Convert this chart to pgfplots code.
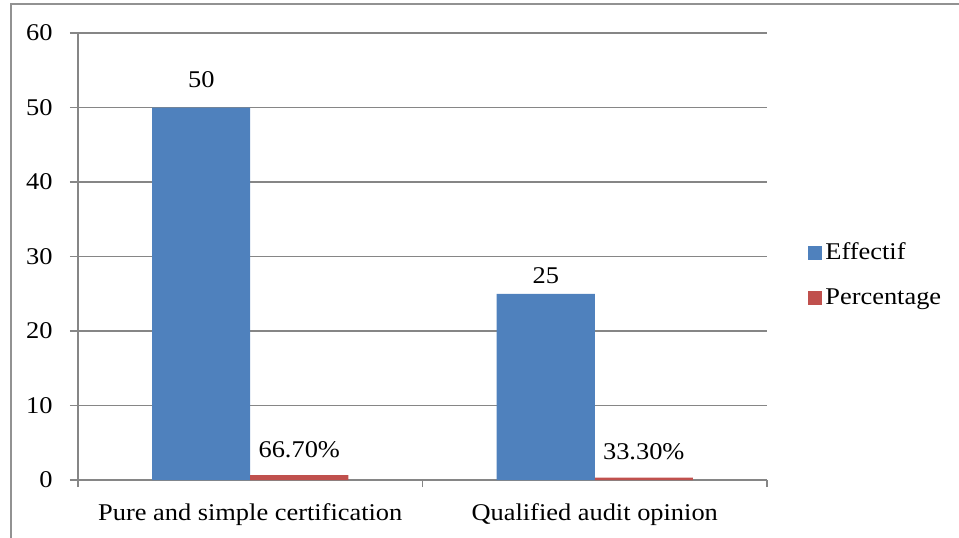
\documentclass[border=0pt]{standalone}
\usepackage{fontspec}
\setmainfont{Liberation Serif}[FakeStretch=1.1]
\usepackage{pgfplots}
\pgfplotsset{compat=1.18}
\definecolor{eblue}{HTML}{4F81BD}
\definecolor{ered}{HTML}{C0504D}
\definecolor{gridgray}{HTML}{868686}
\begin{document}
\begin{tikzpicture}[font=\fontsize{12pt}{14pt}\selectfont]
\begin{axis}[
  at={(0,0)}, anchor=south west,
  scale only axis, width=344.5pt, height=223.5pt,
  xmin=-0.5, xmax=1.5, ymin=0, ymax=60,
  ytick={0,10,...,60},
  ymajorgrids, grid style={gridgray, line width=0.6pt},
  axis x line*=bottom, axis y line*=left,
  axis line style={gridgray, line width=0.6pt, -},
  xtick={0,1},
  xticklabels={Pure and simple certification, Qualified audit opinion},
  major x tick style={draw=none},
  minor xtick={-0.5,0.5,1.5},
  minor tick length=3.5pt, major tick length=4pt, tick align=outside,
  tick style={gridgray, line width=0.6pt},
  /pgf/number format/assume math mode=true,
  tick label style={font=\fontsize{12pt}{14pt}\selectfont, text=black},
  yticklabel style={anchor=east, inner sep=0pt, xshift=-8.5pt},
  xticklabel style={anchor=base, inner sep=0pt, yshift=-16pt},
  ybar=0pt, bar width=49pt,
  legend style={at={(rel axis cs:1,0.458)}, anchor=west, xshift=20.5pt,
    draw=none, fill=none, inner sep=0pt, row sep=10pt,
    font=\fontsize{12pt}{14pt}\selectfont,
    nodes={inner sep=1.5pt}},
  legend cell align=left,
  legend image code/.code={\fill[#1] (0pt,-3.5pt) rectangle (7pt,3.5pt);},
  nodes near coords, point meta=explicit symbolic,
  nodes near coords style={anchor=base, text=black, font=\fontsize{12pt}{14pt}\selectfont},
]
\addplot[fill=eblue, draw=none, nodes near coords style={yshift=10pt}]
  coordinates {(0,50)[50] (1,25)[\raisebox{-5pt}{25}]};
\addplot[fill=ered, draw=none, nodes near coords style={yshift=9pt}]
  coordinates {(0,0.667)[66.70\%] (1,0.333)[33.30\%]};
\legend{Effectif, Percentage}
\end{axis}
\draw[gridgray!90, line width=0.6pt] (-33.5pt,-40pt) -- (-33.5pt,238pt) -- (470pt,238pt);
\pgfresetboundingbox
\useasboundingbox (-39pt,-28.5pt) rectangle (440.5pt,240pt);
\end{tikzpicture}
\end{document}
